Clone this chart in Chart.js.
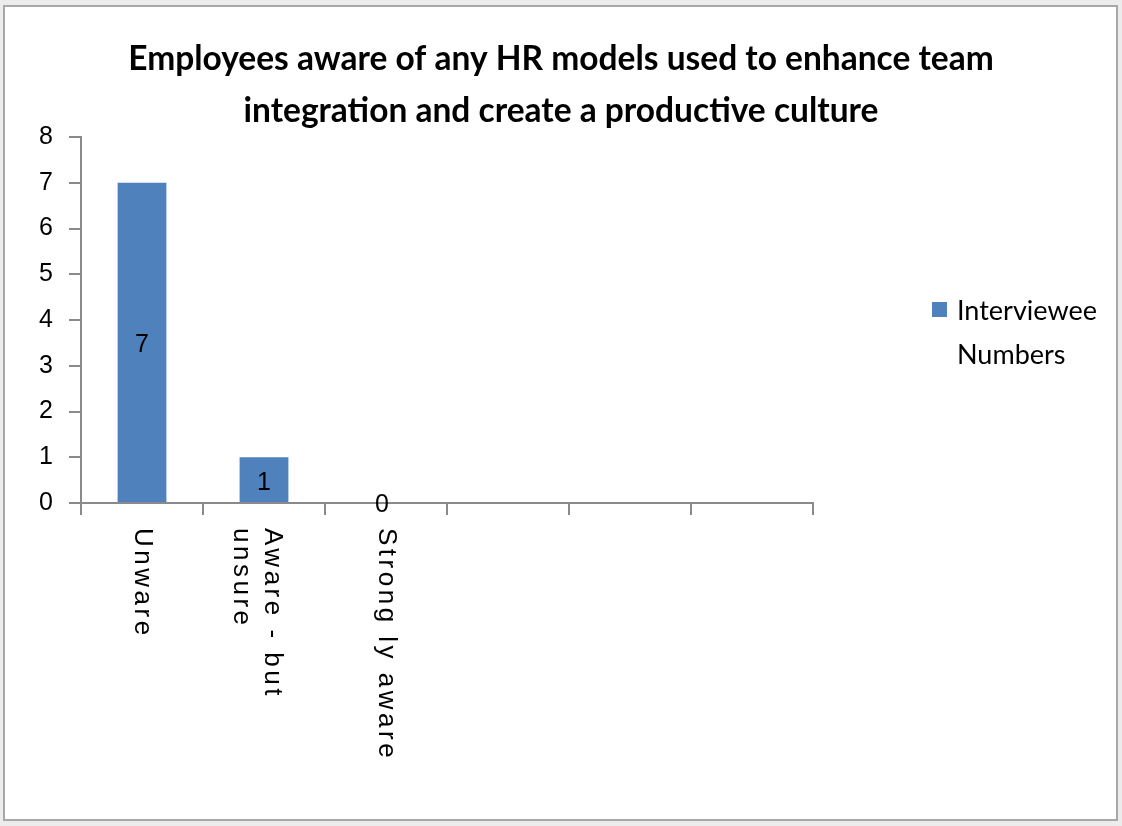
<!DOCTYPE html>
<html><head><meta charset="utf-8">
<script src="https://cdn.jsdelivr.net/npm/chart.js@4/dist/chart.umd.min.js"></script>
<style>html,body{margin:0;padding:0;background:#ececec;}#wrap{width:1122px;height:826px;position:relative}</style>
</head><body><div id="wrap"><canvas id="c" width="1122" height="826"></canvas></div>
<script>
const titleLines = ["Employees aware of any HR models used to enhance team", "integration and create a productive culture"];
const categories = [["Unware"], ["Aware - but", "unsure"], ["Strong ly aware"], [""], [""], [""]];
const seriesName = ["Interviewee", "Numbers"];
const values = [7, 1, 0, null, null, null];
const yMin = 0, yMax = 8, yStep = 1;

const AXIS = '#8a8a8a';
const BAR = '#4f81bd';

const framePlugin = {
  id: 'frame',
  beforeDraw(chart) {
    const ctx = chart.ctx;
    ctx.save();
    ctx.fillStyle = '#ececec';
    ctx.fillRect(0, 0, chart.width, chart.height);
    ctx.fillStyle = '#ffffff';
    ctx.fillRect(4, 6, 1113, 814);
    ctx.strokeStyle = '#a8a8a8';
    ctx.lineWidth = 2;
    ctx.strokeRect(4, 6, 1113, 814);
    ctx.restore();
  }
};

const labelPlugin = {
  id: 'xlabels',
  afterDraw(chart) {
    const ctx = chart.ctx;
    const xs = chart.scales.x;
    ctx.save();
    ctx.fillStyle = '#000';
    ctx.font = '26px "Liberation Sans"';
    ctx.letterSpacing = '3.5px';
    ctx.textAlign = 'left';
    ctx.textBaseline = 'middle';
    const lineH = 31;
    categories.forEach((lines, i) => {
      const n = lines.length;
      const x = xs.getPixelForValue(i) - (n > 1 ? 7 : 0);
      ctx.save();
      ctx.translate(x, 528);
      ctx.rotate(Math.PI / 2);
      lines.forEach((t, j) => {
        ctx.fillText(t, 0, (j - (n - 1) / 2) * lineH);
      });
      ctx.restore();
    });
    // data labels
    ctx.letterSpacing = '0px';
    ctx.font = '25px "Liberation Sans"';
    ctx.textAlign = 'center';
    const meta = chart.getDatasetMeta(0);
    meta.data.forEach((el, i) => {
      const v = values[i];
      if (v === null || v === undefined) return;
      const off = v === 0 ? 2 : 3;
      ctx.fillText(String(v), el.x - (v === 0 ? 4 : 0), (el.y + el.base) / 2 + off);
    });
    // legend
    ctx.fillStyle = BAR;
    ctx.fillRect(932, 302, 15, 15);
    ctx.fillStyle = '#000';
    ctx.textAlign = 'left';
    ctx.font = '27px Lato';
    ctx.fillText(seriesName[0], 957, 311);
    ctx.fillText(seriesName[1], 957, 355);
    ctx.restore();
  }
};

new Chart(document.getElementById('c'), {
  type: 'bar',
  data: {
    labels: categories,
    datasets: [{
      label: seriesName.join(' '),
      data: values,
      backgroundColor: BAR,
      borderWidth: 0,
      barPercentage: 0.4,
      categoryPercentage: 1.0
    }]
  },
  options: {
    responsive: false,
    animation: false,
    devicePixelRatio: 1,
    layout: { padding: 0 },
    plugins: {
      legend: { display: false },
      tooltip: { enabled: false },
      title: {
        display: true,
        fullSize: true,
        text: titleLines,
        color: '#000',
        font: { family: 'Lato', weight: 'bold', size: 33.5, lineHeight: 52 / 33.5 },
        padding: { top: 33, bottom: 0 }
      }
    },
    scales: {
      x: {
        type: 'category',
        offset: true,
        grid: { display: true, offset: true, drawOnChartArea: false, drawTicks: true, tickLength: 12, color: AXIS, lineWidth: 2 },
        border: { display: true, color: AXIS, width: 2 },
        ticks: { display: false },
        afterFit(s) { s.height = 826 - 503; }
      },
      y: {
        min: yMin, max: yMax,
        grid: { display: true, drawOnChartArea: false, drawTicks: true, tickLength: 12, color: AXIS, lineWidth: 2 },
        border: { display: true, color: AXIS, width: 2 },
        ticks: { stepSize: yStep, color: '#000', padding: 16, font: { family: 'Liberation Sans', size: 25 } },
        afterFit(s) { s.width = 81; }
      },
      yRight: {
        position: 'right',
        display: true,
        grid: { display: false, drawTicks: false },
        border: { display: false },
        ticks: { display: false },
        afterFit(s) { s.width = 1122 - 813; }
      }
    }
  },
  plugins: [framePlugin, labelPlugin]
});
</script>
</body></html>
